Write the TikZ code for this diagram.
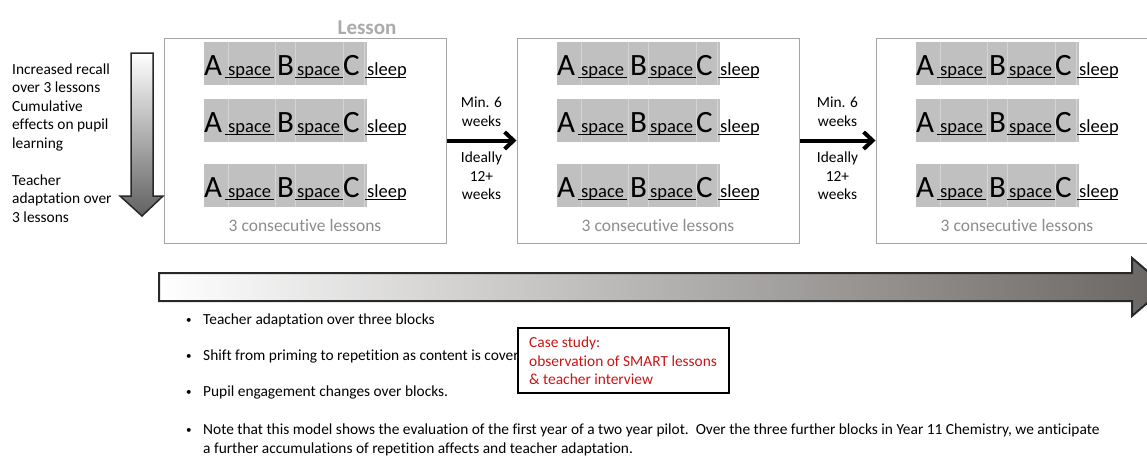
\documentclass[tikz,border=0pt]{standalone}
\usepackage{fontspec}
\setmainfont{Carlito}[Ligatures={NoCommon}]
\usetikzlibrary{arrows.meta}
\definecolor{boxgray}{RGB}{165,165,165}
\definecolor{titlegray}{RGB}{170,170,170}
\definecolor{capgray}{RGB}{140,140,140}
\definecolor{cellgray}{RGB}{192,192,192}
\definecolor{cellline}{RGB}{212,212,212}
\definecolor{arrowdark}{RGB}{105,101,98}
\definecolor{casered}{RGB}{204,20,20}
\definecolor{edgedark}{RGB}{40,40,40}
\begin{document}
\begin{tikzpicture}[x=1pt,y=-1pt,
  body/.style={font=\fontsize{15.4}{18.5}\selectfont, inner sep=0pt, anchor=base west},
  bodyc/.style={font=\fontsize{15.4}{18.5}\selectfont, inner sep=0pt, anchor=base},
  bul/.style={font=\fontsize{11}{11}\selectfont, inner sep=0pt, anchor=base west},
  bigl/.style={font=\fontsize{31}{31}\selectfont, inner sep=0pt, anchor=base west},
  smalll/.style={font=\fontsize{18.5}{18.5}\selectfont, inner sep=0pt, anchor=base west},
  lessonbox/.style={draw=boxgray, line width=1pt, minimum height=205pt, inner sep=0pt},
  conn/.style={line width=4pt, -{Straight Barb[length=9pt,width=17pt]}},
  uline/.style={line width=0.9pt},
  sep/.style={draw=cellline, line width=0.7pt},
]
\useasboundingbox (0,0) rectangle (1147,455);
\clip (0,0) rectangle (1147,455);

% title
\node[font=\bfseries\fontsize{21}{21}\selectfont, text=titlegray, inner sep=0pt, anchor=base] (title) at (367,34) {Lesson};

% lesson boxes
\node[lessonbox, minimum width=282pt] (box1) at (305,140.5) {};
\node[lessonbox, minimum width=282pt] (box2) at (658,140.5) {};
\node[lessonbox, minimum width=320pt] (box3) at (1036,140.5) {};

\foreach \bx/\ox in {1/0,2/353,3/712}{
  \foreach \r/\by in {1/75,2/132,3/197}{
    \fill[cellgray] (204+\ox,\by-33) rectangle (367+\ox,\by+10);
    \foreach \sx in {228,275,295,343,364}{
      \draw[sep] (\sx+\ox,\by-33) -- (\sx+\ox,\by+10);
    }
    \node[bigl] (A-\bx-\r) at (204+\ox,\by) {A};
    \node[smalll] (sa-\bx-\r) at (228+\ox,\by) {space};
    \node[bigl] (B-\bx-\r) at (277+\ox,\by) {B};
    \node[smalll] (sb-\bx-\r) at (297+\ox,\by) {space};
    \node[bigl] (C-\bx-\r) at (343+\ox,\by) {C};
    \node[smalll] (sc-\bx-\r) at (367+\ox,\by) {sleep};
    \draw[uline] (225+\ox,\by+2) -- (274+\ox,\by+2);
    \draw[uline] (295+\ox,\by+2) -- (343+\ox,\by+2);
    \draw[uline] (365+\ox,\by+2) -- (406+\ox,\by+2);
  }
  \node[font=\fontsize{17.5}{17.5}\selectfont, text=capgray, inner sep=0pt, anchor=base] (cap-\bx) at (305+\ox,231) {3 consecutive lessons};
}

% connectors between blocks
\draw[conn] (box1.east) -- (box2.west);
\draw[conn] (box2.east) -- (box3.west);
\node[bodyc] (m1a) at (481.5,107.5) {Min. 6};
\node[bodyc] (m1b) at (481.5,126) {weeks};
\node[bodyc] (i1a) at (481.5,162.5) {Ideally};
\node[bodyc] (i1b) at (481.5,181) {12+};
\node[bodyc] (i1c) at (481.5,199.5) {weeks};
\node[bodyc] (m2a) at (837.5,107.5) {Min. 6};
\node[bodyc] (m2b) at (837.5,126) {weeks};
\node[bodyc] (i2a) at (837.5,162.5) {Ideally};
\node[bodyc] (i2b) at (837.5,181) {12+};
\node[bodyc] (i2c) at (837.5,199.5) {weeks};

% left text
\node[body] (l1) at (12,74) {Increased recall};
\node[body] (l2) at (12,92.5) {over 3 lessons};
\node[body] (l3) at (12,111) {Cumulative};
\node[body] (l4) at (12,129.5) {effects on pupil};
\node[body] (l5) at (12,148) {learning};
\node[body] (l6) at (12,185) {Teacher};
\node[body] (l7) at (12,203.5) {adaptation over};
\node[body] (l8) at (12,222) {3 lessons};

% vertical gradient arrow
\draw[draw=edgedark, line width=1.5pt, top color=white, bottom color=black!62, line join=miter]
  (131,53) -- (153,53) -- (153,196) -- (163,196) -- (142,216) -- (120,196) -- (131,196) -- cycle;

% horizontal gradient arrow
\draw[draw=edgedark, line width=2pt, left color=white, right color=arrowdark, line join=miter]
  (159,273) -- (1132,273) -- (1132,258) -- (1166,287) -- (1132,316) -- (1132,301) -- (159,301) -- cycle;

% bullets
\node[bul] (b1d) at (186,323.5) {\textbullet};
\node[body] (b1) at (203,324.5) {Teacher adaptation over three blocks};
\node[bul] (b2d) at (186,359.5) {\textbullet};
\node[body] (b2) at (203,360.5) {Shift from priming to repetition as content is covered};
\node[bul] (b3d) at (186,395.5) {\textbullet};
\node[body] (b3) at (203,396.5) {Pupil engagement changes over blocks.};
\node[bul] (b4d) at (186,433.5) {\textbullet};
\node[body] (b4) at (203,434.5) {Note that this model shows the evaluation of the first year of a two year pilot.\ \ Over the three further blocks in Year 11 Chemistry, we anticipate};
\node[body] (b5) at (203,453) {a further accumulations of repetition affects and teacher adaptation.};

% case study box
\node[draw=black, fill=white, line width=1.5pt, minimum width=211pt, minimum height=65pt, inner sep=0pt] (case) at (623.5,360.5) {};
\node[body, text=casered] (c1) at (529,347) {Case study:};
\node[body, text=casered] (c2) at (529,366) {observation of SMART lessons};
\node[body, text=casered] (c3) at (529,384) {\& teacher interview};
\end{tikzpicture}
\end{document}
